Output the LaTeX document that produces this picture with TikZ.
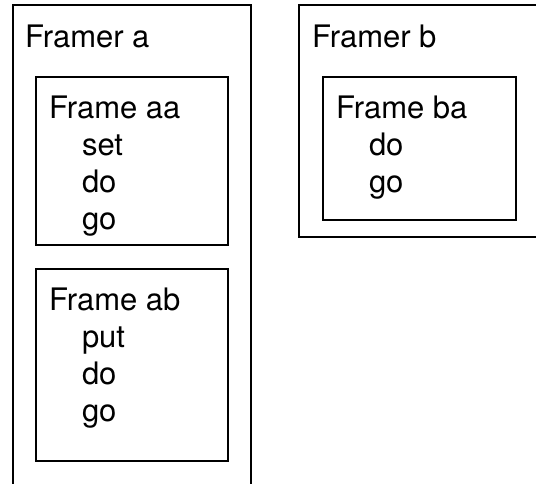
\documentclass[tikz,border=0pt]{standalone}
\usepackage{fontspec}
\setmainfont{TeX Gyre Heros}
\begin{document}
\begin{tikzpicture}[x=1pt, y=-1pt, line width=2pt,
  label/.style={anchor=base west, inner sep=0pt, font=\fontsize{31}{37}\selectfont}]
\def\indent{33}
\def\lineskip{37}
\useasboundingbox (0,0) rectangle (536,483);
\clip (0,0) rectangle (536,483);

% FRAMER A (open at the bottom)
\draw (12.5,495) -- (12.5,5) -- (250.5,5) -- (250.5,495);
\node[label] (framera) at (24,47) {Framer a};

\begin{scope}[shift={(35.5,77)}] % FRAME AA
\draw (0,0) rectangle +(192,168);
\node[label] (frameaa) at (12.5,41) {Frame aa};
\foreach \w [count=\i] in {set,do,go}
  \node[label] (aa\i) at (12.5+\indent, 41+\lineskip*\i) {\w};
\end{scope}

\begin{scope}[shift={(35.5,269)}] % FRAME AB
\draw (0,0) rectangle +(192,192);
\node[label] (frameab) at (12.5,41) {Frame ab};
\foreach \w [count=\i] in {put,do,go}
  \node[label] (ab\i) at (12.5+\indent, 41+\lineskip*\i) {\w};
\end{scope}

% FRAMER B (runs off the right edge)
\draw (545,237) -- (299,237) -- (299,5) -- (545,5);
\node[label] (framerb) at (311,47) {Framer b};

\begin{scope}[shift={(322.5,77)}] % FRAME BA
\draw (0,0) rectangle +(193.5,143);
\node[label] (frameba) at (12.5,41) {Frame ba};
\foreach \w [count=\i] in {do,go}
  \node[label] (ba\i) at (12.5+\indent, 41+\lineskip*\i) {\w};
\end{scope}
\end{tikzpicture}
\end{document}
